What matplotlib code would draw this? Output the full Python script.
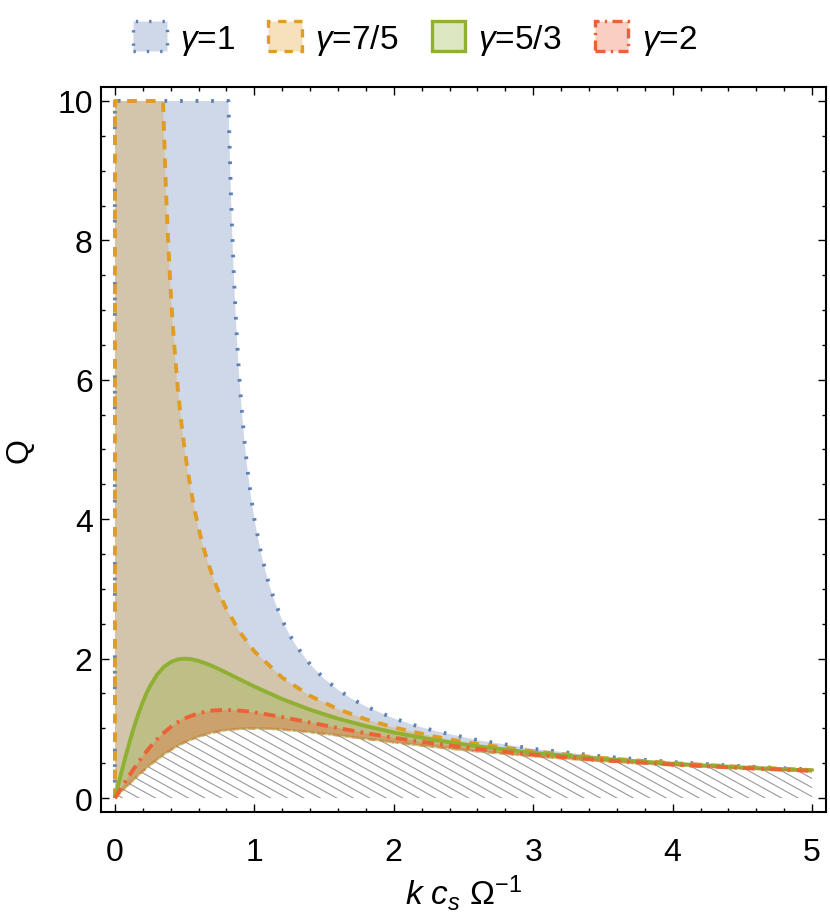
import numpy as np
import matplotlib
matplotlib.use("Agg")
import matplotlib.pyplot as plt
from matplotlib.patches import Polygon, Patch
from matplotlib.collections import LineCollection
from matplotlib.colors import to_rgba
from matplotlib.ticker import MultipleLocator

plt.rcParams['font.family'] = ['Liberation Sans', 'DejaVu Sans']
plt.rcParams['mathtext.fontset'] = 'custom'
plt.rcParams['mathtext.rm'] = 'Liberation Sans'
plt.rcParams['mathtext.it'] = 'Liberation Sans:italic'

# lower limit (hatched, always unstable)
k_h = [0, 0.05, 0.1, 0.15, 0.2, 0.25, 0.3, 0.35, 0.4, 0.45, 0.5, 0.6, 0.7,
       0.8, 0.9, 1.0, 1.1, 1.2, 1.4, 1.6, 1.8, 2.0, 2.3, 2.6, 3.0, 3.5, 4.0,
       4.5, 5.0]
q_h = [0, 0.100, 0.198, 0.293, 0.385, 0.471, 0.550, 0.624, 0.690, 0.748,
       0.800, 0.882, 0.940, 0.976, 0.994, 1.000, 0.995, 0.984, 0.946, 0.899,
       0.849, 0.800, 0.731, 0.670, 0.600, 0.528, 0.471, 0.424, 0.385]

# upper edges of the regions, one per gamma
k_g1 = [0, 0.814, 0.82, 0.83, 0.84, 0.85, 0.86, 0.875, 0.89, 0.9, 0.925,
        0.95, 0.975, 1.0, 1.05, 1.1, 1.15, 1.2, 1.25, 1.3, 1.4, 1.5, 1.6,
        1.7, 1.8, 2.0, 2.15, 2.3, 2.6, 3.0, 3.5, 4.0, 4.5, 5.0]
q_g1 = [10, 10, 9.51, 8.79, 8.17, 7.64, 7.18, 6.59, 6.09, 5.81, 5.20,
        4.72, 4.33, 4.00, 3.49, 3.10, 2.80, 2.553, 2.35, 2.185, 1.918, 1.714,
        1.553, 1.423, 1.314, 1.143, 1.043, 0.960, 0.831, 0.706, 0.596, 0.516,
        0.456, 0.408]

k_g75 = [0, 0.345, 0.36, 0.37, 0.38, 0.39, 0.4, 0.41, 0.42, 0.43, 0.44, 0.45,
         0.46, 0.47, 0.48, 0.5, 0.52, 0.55, 0.575, 0.6, 0.625, 0.65, 0.7,
         0.75, 0.8, 0.9, 1.0, 1.2, 1.4, 1.6, 1.8, 2.0, 2.3, 2.6, 3.0, 3.5,
         4.0, 4.5, 5.0]
q_g75 = [10, 10, 9.05, 8.52, 8.05, 7.64, 7.27, 6.94, 6.65, 6.38, 6.13, 5.90,
         5.69, 5.50, 5.32, 5.00, 4.72, 4.36, 4.10, 3.87, 3.67, 3.49, 3.18,
         2.93, 2.71, 2.37, 2.105, 1.727, 1.466, 1.275, 1.129, 1.013, 0.878,
         0.775, 0.670, 0.574, 0.502, 0.446, 0.401]

k_g53 = [0, 0.025, 0.05, 0.075, 0.1, 0.125, 0.15, 0.175, 0.2, 0.225, 0.25,
         0.3, 0.35, 0.4, 0.45, 0.5, 0.55, 0.6, 0.65, 0.7, 0.75, 0.8, 0.9, 1.0,
         1.2, 1.4, 1.6, 1.8, 2.0, 2.3, 2.6, 3.0, 3.5, 4.0, 4.5, 5.0]
q_g53 = [0, 0.200, 0.396, 0.587, 0.769, 0.941, 1.101, 1.247, 1.379, 1.497,
         1.600, 1.765, 1.879, 1.951, 1.989, 2.000, 1.991, 1.967, 1.933, 1.892,
         1.846, 1.798, 1.698, 1.600, 1.420, 1.267, 1.139, 1.032, 0.941, 0.830,
         0.742, 0.649, 0.560, 0.492, 0.439, 0.396]

k_g2 = [0, 0.05, 0.1, 0.15, 0.2, 0.25, 0.3, 0.35, 0.4, 0.45, 0.5, 0.6, 0.7,
        0.8, 0.9, 1.0, 1.2, 1.4, 1.6, 1.8, 2.0, 2.3, 2.6, 3.0, 3.5, 4.0, 4.5,
        5.0]
q_g2 = [0, 0.159, 0.315, 0.463, 0.602, 0.727, 0.839, 0.936, 1.019, 1.088,
        1.143, 1.218, 1.256, 1.265, 1.254, 1.231, 1.162, 1.083, 1.005, 0.931,
        0.865, 0.778, 0.704, 0.623, 0.544, 0.481, 0.431, 0.390]

labels = [r'$\gamma$=1', r'$\gamma$=7/5', r'$\gamma$=5/3', r'$\gamma$=2']
colors = ['#5E81B5', '#E19C24', '#8FB032', '#EB6235']
dashes = [(0, (0.7, 3.3)), (0, (2.5, 2.3)), 'solid', (0, (3.0, 1.6, 0.7, 1.6))]
uppers = [(k_g1, q_g1), (k_g75, q_g75), (k_g53, q_g53), (k_g2, q_g2)]

fig = plt.figure(figsize=(8.3, 9.2), dpi=100)
ax = fig.add_axes([101/830, 1 - 813/920, 725/830, 725/920])

# hatched region below the lower limit
hatch_poly = Polygon(list(zip(k_h, q_h)) + [(k_h[-1], 0), (k_h[0], 0)],
                     closed=True, facecolor='none', edgecolor='none')
ax.add_patch(hatch_poly)
segs = [[(-0.2, c + 1.1 * 0.2), (5.2, c - 1.1 * 5.2)]
        for c in np.arange(0.06, 6.2, 0.13)]
lc = LineCollection(segs, colors='#999999', linewidths=0.8, zorder=1)
ax.add_collection(lc)
lc.set_clip_path(hatch_poly)

for i, (ku, qu) in enumerate(uppers):
    c = colors[i]
    xs = list(ku) + k_h[::-1]
    ys = list(qu) + q_h[::-1]
    ax.fill(xs, ys, color=c, alpha=0.3, lw=0, zorder=2 + i)
    # faint lower edge
    ax.plot(k_h, q_h, color=c, alpha=0.35, lw=1.8, ls=dashes[i],
            zorder=2 + i, solid_capstyle='butt')
    bx = [k_h[0]] + list(ku) + [k_h[-1]]
    by = [q_h[0]] + list(qu) + [q_h[-1]]
    ax.plot(bx, by, color=c, lw=2.8, ls=dashes[i],
            zorder=2 + i, solid_capstyle='butt', dash_capstyle='butt')

ax.set_xlim(-0.1, 5.1)
ax.set_ylim(-0.2, 10.2)
ax.xaxis.set_major_locator(MultipleLocator(1))
ax.xaxis.set_minor_locator(MultipleLocator(0.2))
ax.yaxis.set_major_locator(MultipleLocator(2))
ax.yaxis.set_minor_locator(MultipleLocator(0.5))
ax.tick_params(which='both', direction='in', top=True, right=True, width=1.0)
ax.tick_params(which='major', length=5.5, labelsize=23)
ax.tick_params(which='minor', length=3)
ax.tick_params(axis='x', pad=18)
ax.tick_params(axis='y', pad=6)
for s in ax.spines.values():
    s.set_linewidth(1.5)

ax.set_xlabel(r'$k\ c_s\ \Omega^{-1}$', fontsize=24, labelpad=4)
ax.set_ylabel('Q', fontsize=23, labelpad=16)

handles = [Patch(facecolor=to_rgba(colors[i], 0.3), edgecolor=colors[i],
                 linestyle=dashes[i], linewidth=2.4) for i in range(4)]
fig.legend(handles, labels, loc='center', bbox_to_anchor=(0.5, 1 - 40/920),
           ncol=4, frameon=False, fontsize=24, handlelength=1.0,
           handleheight=1.0, handletextpad=0.4, columnspacing=1.0)

fig.savefig('out.png', dpi=100)
